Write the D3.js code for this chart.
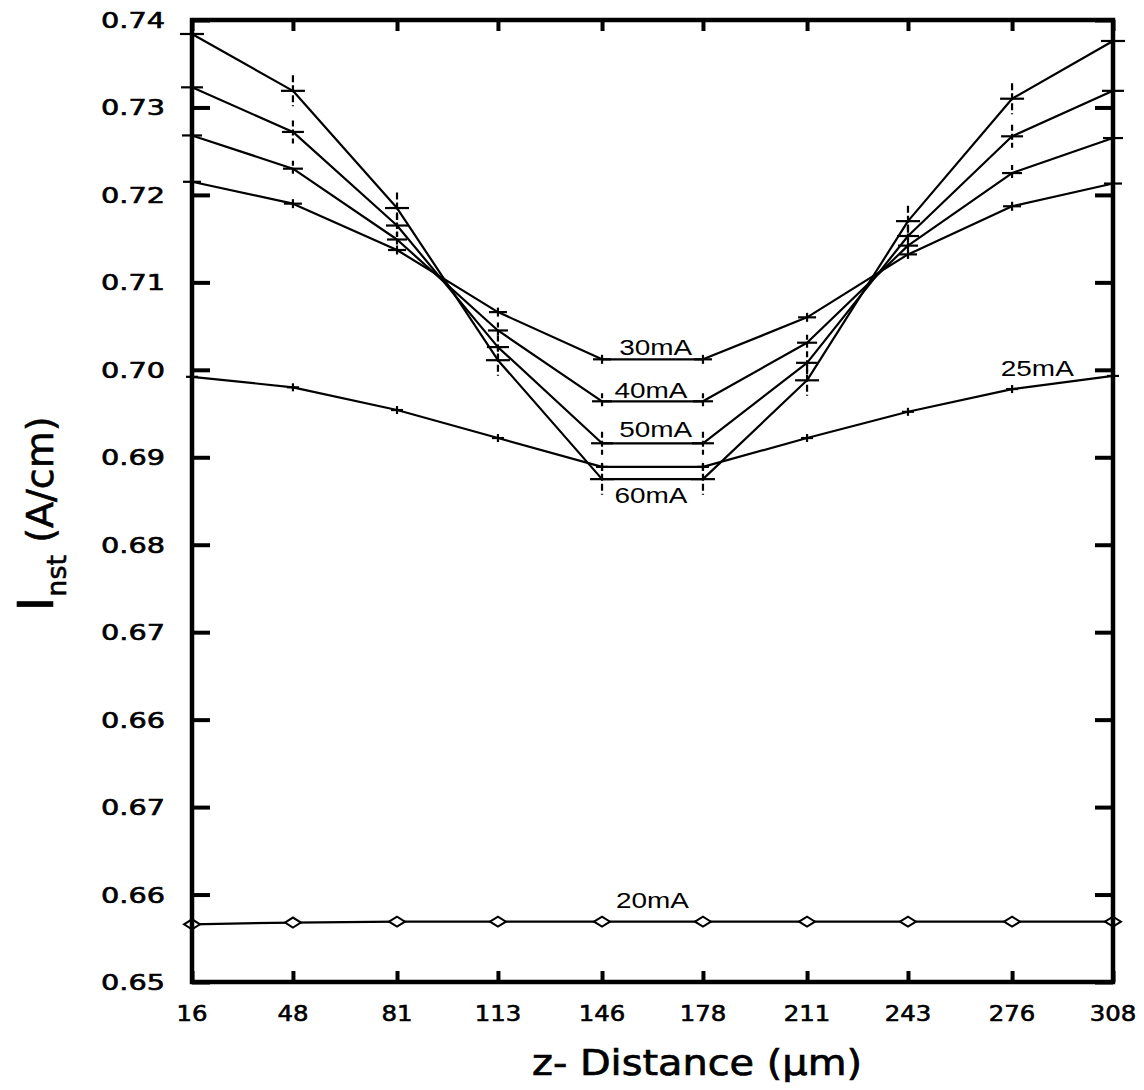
<!DOCTYPE html>
<html>
<head>
<meta charset="utf-8">
<script src="https://cdn.jsdelivr.net/npm/d3@7"></script>
<style>
  html, body { margin: 0; padding: 0; background: #fff; }
  svg { display: block; }
</style>
</head>
<body>
<svg id="chart" width="1144" height="1090"></svg>
<script>
// ---- data ----
const zDistance = [16, 48, 81, 113, 146, 178, 211, 243, 276, 308];
const xTickLabels = ["16", "48", "81", "113", "146", "178", "211", "243", "276", "308"];
const yTickValues = [0.63, 0.64, 0.65, 0.66, 0.67, 0.68, 0.69, 0.70, 0.71, 0.72, 0.73, 0.74];
const yTickLabels = ["0.65", "0.66", "0.67", "0.66", "0.67", "0.68", "0.69", "0.70", "0.71", "0.72", "0.73", "0.74"];

const seriesNames = ["20mA", "25mA", "30mA", "40mA", "50mA", "60mA"];
const i20 = [0.6366, 0.6368, 0.6369, 0.6369, 0.6369, 0.6369, 0.6369, 0.6369, 0.6369, 0.6369];
const i25 = [0.6992, 0.6980, 0.6954, 0.6922, 0.6889, 0.6889, 0.6922, 0.6952, 0.6978, 0.6993];
const i30 = [0.7215, 0.7190, 0.7137, 0.7066, 0.7012, 0.7012, 0.7060, 0.7132, 0.7187, 0.7213];
const i40 = [0.7268, 0.7230, 0.7149, 0.7045, 0.6964, 0.6964, 0.7031, 0.7142, 0.7225, 0.7265];
const i50 = [0.7323, 0.7272, 0.7165, 0.7026, 0.6916, 0.6916, 0.7008, 0.7153, 0.7267, 0.7319];
const i60 = [0.7384, 0.7319, 0.7185, 0.7011, 0.6875, 0.6875, 0.6988, 0.7170, 0.7310, 0.7376];
const seriesValues = [i20, i25, i30, i40, i50, i60];

// ---- layout ----
const L = 192, R = 1113, T = 20, B = 982;
const svg = d3.select("#chart");
const x = d3.scaleLinear().domain([16, 308]).range([L, R]);
const y = d3.scaleLinear().domain([0.63, 0.74]).range([B, T]);

// marker styles per series (h = horizontal arm, v = vertical arm)
const markerStyle = {
  "20mA": { type: "diamond" },
  "25mA": { type: "cross", h: 12, v: 8, dash: null },
  "30mA": { type: "cross", h: 18, v: 9, dash: null },
  "40mA": { type: "cross", h: 20, v: 16, dash: "5,3" },
  "50mA": { type: "cross", h: 22, v: 23, dash: "6,3" },
  "60mA": { type: "cross", h: 24, v: 31, dash: "7,3" }
};

const line = d3.line().x((d, i) => x(zDistance[i])).y(d => y(d));

const plot = svg.append("g");
seriesValues.forEach((vals, si) => {
  const name = seriesNames[si];
  plot.append("path")
    .attr("d", line(vals))
    .attr("fill", "none")
    .attr("stroke", "#000")
    .attr("stroke-width", 2.2)
    .attr("stroke-linejoin", "round");
  const st = markerStyle[name];
  const g = plot.append("g");
  vals.forEach((v, i) => {
    const cx = x(zDistance[i]), cy = y(v);
    if (st.type === "diamond") {
      g.append("path")
        .attr("d", `M${cx - 8},${cy} L${cx},${cy - 5} L${cx + 8},${cy} L${cx},${cy + 5} Z`)
        .attr("fill", "#fff").attr("stroke", "#000").attr("stroke-width", 2);
    } else {
      g.append("line")
        .attr("x1", cx - st.h / 2).attr("x2", cx + st.h / 2)
        .attr("y1", cy).attr("y2", cy)
        .attr("stroke", "#000").attr("stroke-width", 2.2);
      g.append("line")
        .attr("x1", cx).attr("x2", cx)
        .attr("y1", cy - st.v / 2).attr("y2", cy + st.v / 2)
        .attr("stroke", "#000").attr("stroke-width", 2.2)
        .attr("stroke-dasharray", st.dash);
    }
  });
});

// ---- frame & ticks ----
const frame = svg.append("g");
frame.append("rect")
  .attr("x", L).attr("y", T).attr("width", R - L).attr("height", B - T)
  .attr("fill", "none").attr("stroke", "#000").attr("stroke-width", 4.5);

const axB = d3.axisBottom(x).tickValues(zDistance).tickSize(-11).tickFormat("");
const axT = d3.axisTop(x).tickValues(zDistance).tickSize(-11).tickFormat("");
const axL = d3.axisLeft(y).tickValues(yTickValues).tickSize(-18).tickFormat("");
const axR = d3.axisRight(y).tickValues(yTickValues).tickSize(-18).tickFormat("");
[[axB, `translate(0,${B})`], [axT, `translate(0,${T})`], [axL, `translate(${L},0)`], [axR, `translate(${R},0)`]]
  .forEach(([ax, tr]) => {
    const g = frame.append("g").attr("transform", tr).call(ax);
    g.select(".domain").remove();
    g.selectAll(".tick line").attr("stroke", "#000").attr("stroke-width", 4);
  });

// tick labels
const yLab = svg.append("g")
  .attr("font-family", "'DejaVu Sans', sans-serif")
  .attr("font-size", 21)
  .attr("stroke", "#000").attr("stroke-width", 0.6);
yTickValues.forEach((v, i) => {
  const lab = yTickLabels[i];
  yLab.append("text")
    .attr("x", 165).attr("y", y(v) + 8)
    .attr("text-anchor", "end")
    .attr("textLength", 64).attr("lengthAdjust", "spacingAndGlyphs")
    .text(lab);
});
const xLab = svg.append("g")
  .attr("font-family", "'DejaVu Sans', sans-serif")
  .attr("font-size", 21)
  .attr("stroke", "#000").attr("stroke-width", 0.6);
zDistance.forEach((v, i) => {
  const lab = xTickLabels[i];
  xLab.append("text")
    .attr("x", x(v)).attr("y", 1021)
    .attr("text-anchor", "middle")
    .attr("textLength", lab.length * 15.5).attr("lengthAdjust", "spacingAndGlyphs")
    .text(lab);
});

// axis titles
svg.append("text")
  .attr("x", 697).attr("y", 1075)
  .attr("text-anchor", "middle")
  .attr("font-family", "'DejaVu Sans', sans-serif")
  .attr("font-size", 36)
  .attr("stroke", "#000").attr("stroke-width", 0.7)
  .attr("textLength", 330).attr("lengthAdjust", "spacingAndGlyphs")
  .text("z- Distance (µm)");

const yt = svg.append("text")
  .attr("transform", "translate(53,514) rotate(-90)")
  .attr("text-anchor", "middle")
  .attr("font-family", "'DejaVu Sans', sans-serif")
  .attr("stroke", "#000").attr("stroke-width", 0.6);
yt.append("tspan").attr("font-size", 50).text("I");
yt.append("tspan").attr("font-size", 27).attr("dy", 13).text("nst");
yt.append("tspan").attr("font-size", 38).attr("dy", -13).text(" (A/cm)");

// series labels
const labelPos = {
  "20mA": { at: 162, dy: -14, idx: 4 },
  "25mA": { at: 284, dy: -6, idx: 8 },
  "30mA": { at: 163, dy: -4, idx: 4 },
  "40mA": { at: 161.5, dy: -3, idx: 4 },
  "50mA": { at: 163, dy: -6, idx: 4 },
  "60mA": { at: 161.5, dy: 24, idx: 4 }
};
const sl = svg.append("g")
  .attr("font-family", "'Liberation Sans', Arial, sans-serif")
  .attr("font-size", 22);
seriesNames.forEach((name, si) => {
  const p = labelPos[name];
  const vals = seriesValues[si];
  const yv = name === "25mA" ? (vals[8] + vals[9]) / 2 : vals[p.idx];
  sl.append("text")
    .attr("x", x(p.at)).attr("y", y(yv) + p.dy)
    .attr("text-anchor", "middle")
    .attr("textLength", 73).attr("lengthAdjust", "spacingAndGlyphs")
    .text(name);
});
</script>
</body>
</html>
